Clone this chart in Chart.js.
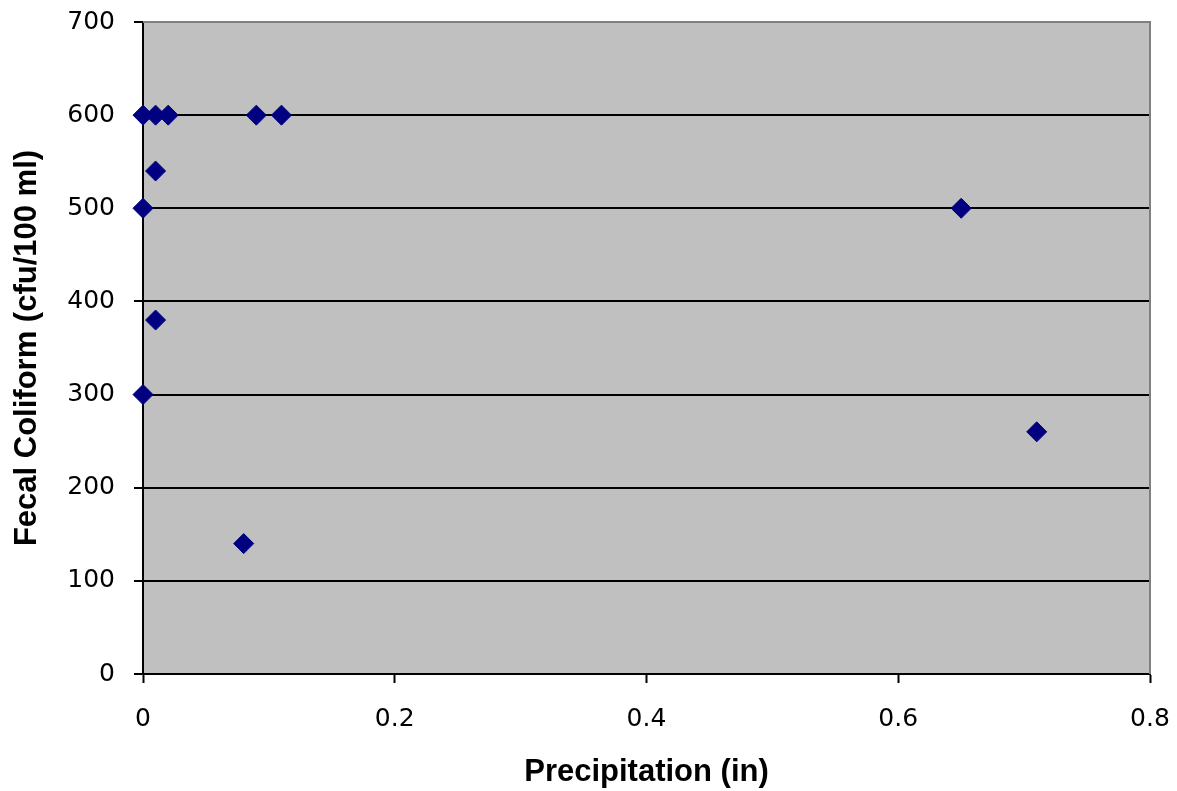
<!DOCTYPE html>
<html>
<head>
<meta charset="utf-8">
<script src="https://cdn.jsdelivr.net/npm/chart.js@4"></script>
<style>
  html, body { margin: 0; padding: 0; background: #fff; }
  #wrap { width: 1177px; height: 791px; }
</style>
</head>
<body>
<div id="wrap"><canvas id="coliformChart"></canvas></div>
<script>
// precipitation (in) and fecal coliform (cfu/100 ml) per sample
const precipitation = [0, 0.01, 0.02, 0.09, 0.11, 0.01, 0, 0.01, 0, 0.08, 0.65, 0.71];
const fecalColiform = [600, 600, 600, 600, 600, 540, 500, 380, 300, 140, 500, 260];

const xTicks = [0, 0.2, 0.4, 0.6, 0.8];
const yTicks = [0, 100, 200, 300, 400, 500, 600, 700];

const points = precipitation.map((p, i) => ({x: p, y: fecalColiform[i]}));

// gray plot background + gray frame
const plotArea = {
    id: 'plotArea',
    beforeDraw(chart) {
        const {ctx, chartArea: a} = chart;
        ctx.save();
        ctx.fillStyle = '#c0c0c0';
        ctx.fillRect(a.left, a.top, a.right - a.left, a.bottom - a.top);
        ctx.restore();
    },
    afterDatasetsDraw(chart) {
        const {ctx, chartArea: a} = chart;
        ctx.save();
        ctx.strokeStyle = '#808080';
        ctx.lineWidth = 2;
        ctx.beginPath();
        ctx.moveTo(a.left, a.top);
        ctx.lineTo(a.right, a.top);
        ctx.lineTo(a.right, a.bottom);
        ctx.stroke();
        ctx.restore();
    }
};

const tickFont = {family: 'DejaVu Sans', size: 25};
const titleFont = {family: 'Liberation Sans, Arial', size: 31, weight: 'bold'};

new Chart(
    document.getElementById('coliformChart'),
    {
        type: 'scatter',
        data: {
            datasets: [{
                data: points,
                pointStyle: 'rectRot',
                pointRadius: 10,
                pointHoverRadius: 10,
                backgroundColor: '#000080',
                borderColor: '#000080',
                borderWidth: 1,
                clip: false
            }]
        },
        options: {
            responsive: true,
            maintainAspectRatio: false,
            animation: false,
            layout: {padding: {top: 22, right: 27, left: 0, bottom: 0}},
            plugins: {
                legend: {display: false},
                tooltip: {enabled: false}
            },
            scales: {
                x: {
                    type: 'linear',
                    min: 0,
                    max: 0.8,
                    afterBuildTicks: (axis) => { axis.ticks = xTicks.map(v => ({value: v})); },
                    afterFit: (axis) => {
                        axis.height = 117;
                        axis.paddingLeft = 0;
                        axis.paddingRight = 0;
                    },
                    grid: {drawOnChartArea: false, drawTicks: true, tickLength: 9, tickColor: '#000', tickWidth: 2},
                    border: {color: '#000', width: 2},
                    ticks: {color: '#000', font: tickFont, padding: 21, maxRotation: 0,
                        callback: (v) => String(v)},
                    title: {display: true, text: 'Precipitation (in)', color: '#000', font: titleFont,
                        padding: {top: 0, bottom: 0}}
                },
                y: {
                    type: 'linear',
                    min: 0,
                    max: 700,
                    afterBuildTicks: (axis) => { axis.ticks = yTicks.map(v => ({value: v})); },
                    afterFit: (axis) => {
                        axis.width = 143;
                        axis.paddingTop = 0;
                        axis.paddingBottom = 0;
                    },
                    grid: {color: '#000', lineWidth: 2, tickLength: 9, tickColor: '#000', drawTicks: true},
                    border: {color: '#000', width: 2},
                    ticks: {color: '#000', font: tickFont, padding: 19,
                        callback: (v) => String(v)},
                    title: {display: true, text: 'Fecal Coliform (cfu/100 ml)', color: '#000', font: titleFont,
                        padding: {top: 9, bottom: 0}}
                }
            }
        },
        plugins: [plotArea]
    }
)
</script>
</body>
</html>
